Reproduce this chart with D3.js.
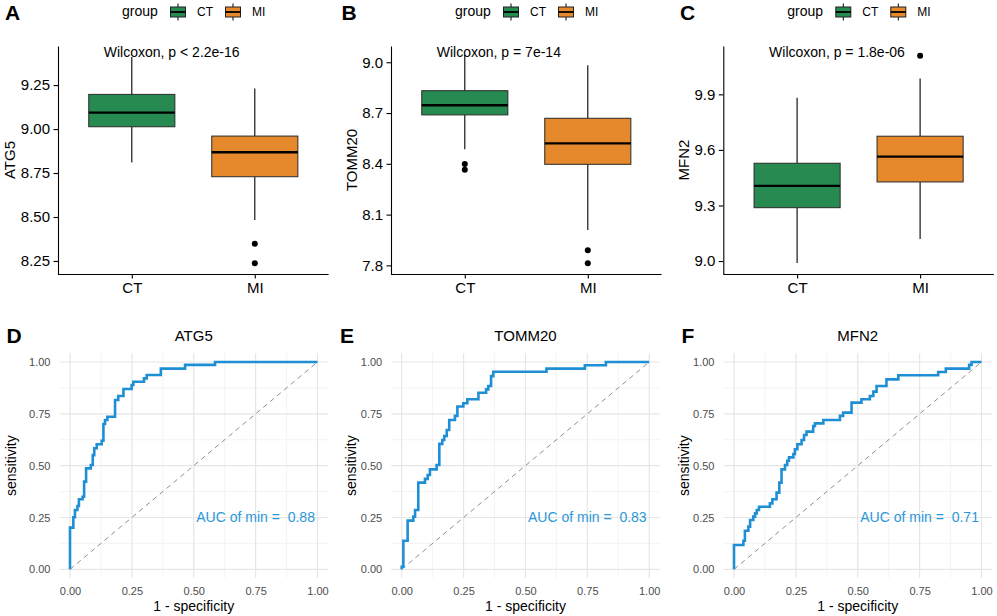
<!DOCTYPE html>
<html>
<head>
<meta charset="utf-8">
<script src="https://cdn.jsdelivr.net/npm/d3@7"></script>
<style>
  body { margin: 0; background: #fff; }
  svg { display: block; font-family: "Liberation Sans", Arial, sans-serif; }
</style>
</head>
<body>
<div id="chart"></div>
<script>
// ---- data ----
const groups = ['CT', 'MI']
const genes = ['ATG5', 'TOMM20', 'MFN2']
const pLabels = ['Wilcoxon, p < 2.2e-16', 'Wilcoxon, p = 7e-14', 'Wilcoxon, p = 1.8e-06']

// boxplot stats per group: lower whisker, q1, median, q3, upper whisker, outliers
const atg5Box = [
    { group: 'CT', lo: 8.81, q1: 9.013, med: 9.093, q3: 9.197, hi: 9.41, out: [] },
    { group: 'MI', lo: 8.483, q1: 8.729, med: 8.868, q3: 8.96, hi: 9.231, out: [8.348, 8.237] }
]
const tomm20Box = [
    { group: 'CT', lo: 8.486, q1: 8.689, med: 8.746, q3: 8.832, hi: 9.043, out: [8.399, 8.365] },
    { group: 'MI', lo: 8.009, q1: 8.397, med: 8.521, q3: 8.669, hi: 8.982, out: [7.889, 7.812] }
]
const mfn2Box = [
    { group: 'CT', lo: 8.99, q1: 9.288, med: 9.406, q3: 9.528, hi: 9.882, out: [] },
    { group: 'MI', lo: 9.119, q1: 9.427, med: 9.564, q3: 9.674, hi: 9.986, out: [10.108] }
]

const atg5Ticks = [8.25, 8.5, 8.75, 9.0, 9.25]
const tomm20Ticks = [7.8, 8.1, 8.4, 8.7, 9.0]
const mfn2Ticks = [9.0, 9.3, 9.6, 9.9]

const atg5Domain = [8.176, 9.472]
const tomm20Domain = [7.749, 9.096]
const mfn2Domain = [8.930, 10.161]

// ROC step vertices: [1 - specificity, sensitivity]
const rocATG5 = [
    [0, 0], [0, 0.201], [0.0135, 0.251], [0.020, 0.286], [0.030, 0.305], [0.036, 0.338],
    [0.051, 0.350], [0.057, 0.423], [0.065, 0.487], [0.084, 0.503], [0.092, 0.551],
    [0.098, 0.584], [0.108, 0.603], [0.128, 0.620], [0.135, 0.701], [0.1415, 0.720],
    [0.151, 0.736], [0.182, 0.817], [0.195, 0.836], [0.216, 0.870], [0.249, 0.889],
    [0.256, 0.905], [0.299, 0.921], [0.310, 0.937], [0.367, 0.968], [0.465, 0.986],
    [0.586, 1.0], [1, 1]
]
const rocTOMM20 = [
    [0, 0], [0, 0.012], [0.0067, 0.138], [0.024, 0.235], [0.047, 0.254], [0.054, 0.286],
    [0.067, 0.418], [0.094, 0.436], [0.105, 0.455], [0.114, 0.482], [0.141, 0.503],
    [0.152, 0.605], [0.164, 0.624], [0.172, 0.643], [0.182, 0.672], [0.192, 0.720],
    [0.215, 0.740], [0.225, 0.785], [0.249, 0.801], [0.265, 0.820], [0.310, 0.852],
    [0.341, 0.868], [0.350, 0.884], [0.361, 0.932], [0.370, 0.953], [0.585, 0.968],
    [0.740, 0.984], [0.825, 1.0], [1, 1]
]
const rocMFN2 = [
    [0, 0], [0, 0.117], [0.038, 0.138], [0.044, 0.186], [0.058, 0.206], [0.065, 0.238],
    [0.078, 0.254], [0.085, 0.270], [0.092, 0.286], [0.101, 0.302], [0.145, 0.318],
    [0.155, 0.338], [0.172, 0.370], [0.183, 0.418], [0.192, 0.482], [0.206, 0.503],
    [0.215, 0.524], [0.222, 0.540], [0.240, 0.556], [0.246, 0.579], [0.256, 0.603],
    [0.273, 0.624], [0.283, 0.648], [0.293, 0.664], [0.320, 0.691], [0.327, 0.704],
    [0.361, 0.720], [0.428, 0.740], [0.441, 0.756], [0.475, 0.804], [0.515, 0.820],
    [0.549, 0.836], [0.563, 0.857], [0.576, 0.884], [0.616, 0.916], [0.664, 0.936],
    [0.825, 0.952], [0.856, 0.968], [0.950, 0.986], [0.960, 1.0], [1, 1]
]
const aucLabels = ['0.88', '0.83', '0.71']
const rocTicks = [0, 0.25, 0.5, 0.75, 1]
const rocMinor = [0.125, 0.375, 0.625, 0.875]

// ---- drawing ----
const W = 997, H = 616
const fill = { CT: '#278a50', MI: '#e5892c' }
const rocBlue = '#1f8fd5'

const svg = d3.select('#chart').append('svg')
    .attr('width', W)
    .attr('height', H)

function letter(x, y, t) {
    svg.append('text')
        .attr('x', x).attr('y', y)
        .attr('font-size', 21)
        .attr('font-weight', 'bold')
        .text(t)
}

function legendKey(g, x, color) {
    const k = g.append('g').attr('transform', `translate(${x},0)`)
    k.append('line').attr('x1', 8).attr('x2', 8).attr('y1', 3.5).attr('y2', 20.5)
        .attr('stroke', '#000').attr('stroke-width', 1)
    k.append('rect').attr('x', 0.5).attr('y', 7).attr('width', 15).attr('height', 10)
        .attr('fill', color).attr('stroke', '#222').attr('stroke-width', 1)
    k.append('line').attr('x1', 0.5).attr('x2', 15.5).attr('y1', 12).attr('y2', 12)
        .attr('stroke', '#000').attr('stroke-width', 1.8)
}

function drawBoxPanel(cfg) {
    const L = cfg.left, width = 270.6
    const top = 46, bottom = 274

    const x = d3.scalePoint().domain(groups).range([L, L + width]).padding(0.6)
    const y = d3.scaleLinear().domain(cfg.domain).range([bottom, top])
    const bw = x.step() * 0.7

    const g = svg.append('g')

    // legend
    const lg = g.append('g')
    lg.append('text').attr('x', L + 64).attr('y', 16).attr('font-size', 14).text('group')
    legendKey(lg, L + 112, fill.CT)
    lg.append('text').attr('x', L + 139).attr('y', 16).attr('font-size', 12).text('CT')
    legendKey(lg, L + 167, fill.MI)
    lg.append('text').attr('x', L + 194).attr('y', 16).attr('font-size', 12).text('MI')

    // boxes
    const b = g.selectAll('g.box').data(cfg.data).enter().append('g').attr('class', 'box')
    b.append('line')
        .attr('x1', d => x(d.group)).attr('x2', d => x(d.group))
        .attr('y1', d => y(d.hi)).attr('y2', d => y(d.q3))
        .attr('stroke', '#000').attr('stroke-width', 1.1)
    b.append('line')
        .attr('x1', d => x(d.group)).attr('x2', d => x(d.group))
        .attr('y1', d => y(d.q1)).attr('y2', d => y(d.lo))
        .attr('stroke', '#000').attr('stroke-width', 1.1)
    b.append('rect')
        .attr('x', d => x(d.group) - bw / 2)
        .attr('y', d => y(d.q3))
        .attr('width', bw)
        .attr('height', d => y(d.q1) - y(d.q3))
        .attr('fill', d => fill[d.group])
        .attr('stroke', '#2a2a2a')
        .attr('stroke-width', 1)
    b.append('line')
        .attr('x1', d => x(d.group) - bw / 2).attr('x2', d => x(d.group) + bw / 2)
        .attr('y1', d => y(d.med)).attr('y2', d => y(d.med))
        .attr('stroke', '#000').attr('stroke-width', 2.3)
    b.selectAll('circle').data(d => d.out.map(v => ({ group: d.group, v }))).enter()
        .append('circle')
        .attr('cx', d => x(d.group))
        .attr('cy', d => y(d.v))
        .attr('r', 3)
        .attr('fill', '#000')

    // axes
    const ya = g.append('g').attr('transform', `translate(${L},0)`)
        .call(d3.axisLeft(y).tickValues(cfg.ticks).tickFormat(d3.format(cfg.fmt))
            .tickSize(4.5).tickSizeOuter(0).tickPadding(3.5))
    const xa = g.append('g').attr('transform', `translate(0,${bottom})`)
        .call(d3.axisBottom(x).tickSize(4.5).tickSizeOuter(0).tickPadding(3.5))
    xa.select('.domain').attr('d', `M${L},0.5H${L + width}`)
    ;[ya, xa].forEach(a => {
        a.attr('font-family', null).attr('font-size', null)
        a.selectAll('text').attr('font-size', 15).attr('fill', '#000')
        a.selectAll('line, path').attr('stroke', '#000').attr('stroke-width', 1.1)
    })

    // y title sits just left of the widest tick label
    let minX = Infinity
    ya.selectAll('text').each(function () {
        const bb = this.getBBox()
        minX = Math.min(minX, L + bb.x)
    })
    g.append('text')
        .attr('transform', `translate(${minX - 5.5},${(top + bottom) / 2}) rotate(-90)`)
        .attr('text-anchor', 'middle')
        .attr('font-size', 15)
        .text(cfg.gene)

    // test label
    g.append('text')
        .attr('x', x('CT') - 28)
        .attr('y', 57)
        .attr('font-size', 14)
        .text(cfg.p)
}

function drawRocPanel(cfg) {
    const x0 = cfg.left, w = 247.5
    const yZero = 569.3, yOne = 362
    const ex = 0.042

    const x = d3.scaleLinear().domain([0, 1]).range([x0, x0 + w])
    const y = d3.scaleLinear().domain([0, 1]).range([yZero, yOne])

    const g = svg.append('g')
    const grid = g.append('g')

    rocMinor.forEach(v => {
        grid.append('line').attr('x1', x(v)).attr('x2', x(v)).attr('y1', y(-ex)).attr('y2', y(1 + ex))
            .attr('stroke', '#ededed').attr('stroke-width', 0.6)
        grid.append('line').attr('y1', y(v)).attr('y2', y(v)).attr('x1', x(-ex)).attr('x2', x(1 + ex))
            .attr('stroke', '#ededed').attr('stroke-width', 0.6)
    })
    rocTicks.forEach(v => {
        grid.append('line').attr('x1', x(v)).attr('x2', x(v)).attr('y1', y(-ex)).attr('y2', y(1 + ex))
            .attr('stroke', '#e6e6e6').attr('stroke-width', 1.2)
        grid.append('line').attr('y1', y(v)).attr('y2', y(v)).attr('x1', x(-ex)).attr('x2', x(1 + ex))
            .attr('stroke', '#e6e6e6').attr('stroke-width', 1.2)
    })

    // chance line
    g.append('line')
        .attr('x1', x(0)).attr('y1', y(0)).attr('x2', x(1)).attr('y2', y(1))
        .attr('stroke', '#8f8f8f').attr('stroke-width', 1)
        .attr('stroke-dasharray', '5,4')

    const line = d3.line().x(d => x(d[0])).y(d => y(d[1])).curve(d3.curveStepAfter)
    g.append('path')
        .attr('d', line(cfg.roc))
        .attr('fill', 'none')
        .attr('stroke', rocBlue)
        .attr('stroke-width', 2.6)
        .attr('stroke-linejoin', 'miter')

    const fmt = d3.format('.2f')
    const ya = g.append('g').attr('transform', `translate(${x0},0)`)
        .call(d3.axisLeft(y).tickValues(rocTicks).tickFormat(fmt).tickSize(0).tickPadding(19.5))
    const xa = g.append('g').attr('transform', `translate(0,${yZero})`)
        .call(d3.axisBottom(x).tickValues(rocTicks).tickFormat(fmt).tickSize(0).tickPadding(17.8))
    ;[ya, xa].forEach(a => {
        a.attr('font-family', null).attr('font-size', null)
        a.select('.domain').remove()
        a.selectAll('text').attr('font-size', 11).attr('fill', '#4d4d4d')
    })

    g.append('text')
        .attr('x', x(0.5)).attr('y', 341)
        .attr('text-anchor', 'middle')
        .attr('font-size', 15)
        .text(cfg.gene)

    g.append('text')
        .attr('x', x(0.5)).attr('y', 610.5)
        .attr('text-anchor', 'middle')
        .attr('font-size', 14)
        .text('1 - specificity')

    g.append('text')
        .attr('transform', `translate(${x0 - cfg.titleGap},${(yZero + yOne) / 2}) rotate(-90)`)
        .attr('text-anchor', 'middle')
        .attr('font-size', 14)
        .text('sensitivity')

    g.append('text')
        .attr('x', x(0.75)).attr('y', y(0.25))
        .attr('dy', '0.35em')
        .attr('text-anchor', 'middle')
        .attr('font-size', 14)
        .attr('fill', '#2a98d8')
        .style('white-space', 'pre')
        .text('AUC of min =  ' + cfg.auc)
}

const boxData = [atg5Box, tomm20Box, mfn2Box]
const boxTicks = [atg5Ticks, tomm20Ticks, mfn2Ticks]
const boxDomains = [atg5Domain, tomm20Domain, mfn2Domain]
const boxFmt = ['.2f', '.1f', '.1f']
const rocData = [rocATG5, rocTOMM20, rocMFN2]

const topLeft = [58, 391, 723.3]
const rocLeft = [70, 401.7, 734]
const rocTitleGap = [54.5, 46.2, 45.5]

genes.forEach((gene, i) => {
    drawBoxPanel({
        gene, left: topLeft[i], data: boxData[i], ticks: boxTicks[i],
        domain: boxDomains[i], fmt: boxFmt[i], p: pLabels[i]
    })
    drawRocPanel({ gene, left: rocLeft[i], roc: rocData[i], auc: aucLabels[i], titleGap: rocTitleGap[i] })
})

letter(5, 20, 'A'); letter(341.5, 20, 'B'); letter(680, 20, 'C')
letter(6.5, 343, 'D'); letter(340, 343, 'E'); letter(681.5, 343, 'F')
</script>
</body>
</html>
